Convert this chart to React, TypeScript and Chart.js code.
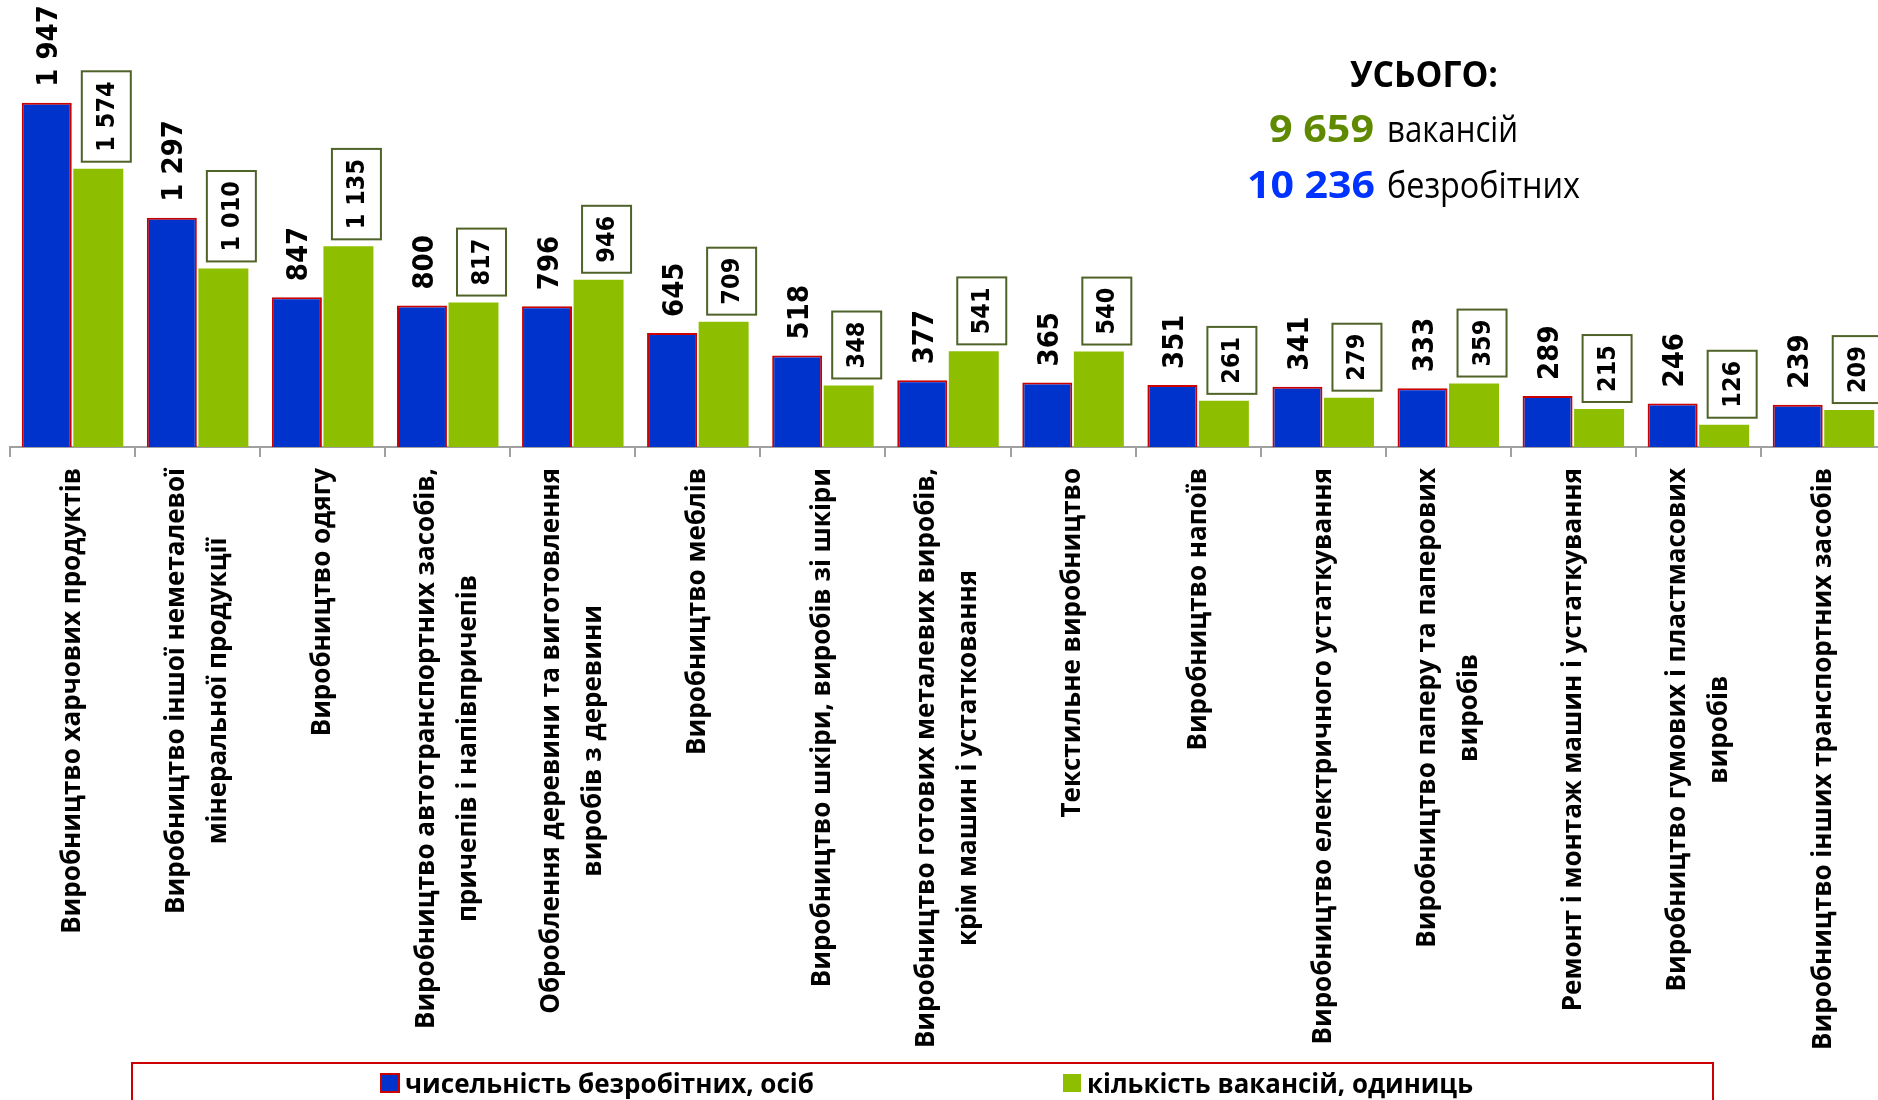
import React, { useEffect, useRef } from 'react';
import { Chart, registerables } from 'chart.js';

Chart.register(...registerables);

const categories: string[][] = [
  ['Виробництво харчових продуктів'],
  ['Виробництво іншої неметалевої', 'мінеральної продукції'],
  ['Виробництво одягу'],
  ['Виробництво автотранспортних засобів,', 'причепів і напівпричепів'],
  ['Оброблення деревини та виготовлення', 'виробів з деревини'],
  ['Виробництво меблів'],
  ['Виробництво шкіри, виробів зі шкіри'],
  ['Виробництво готових металевих виробів,', 'крім машин і устатковання'],
  ['Текстильне виробництво'],
  ['Виробництво напоїв'],
  ['Виробництво електричного устаткування'],
  ['Виробництво паперу та паперових', 'виробів'],
  ['Ремонт і монтаж машин і устаткування'],
  ['Виробництво гумових і пластмасових', 'виробів'],
  ['Виробництво інших транспортних засобів'],
];

const unemployed: number[] = [1947, 1297, 847, 800, 796, 645, 518, 377, 365, 351, 341, 333, 289, 246, 239];
const vacancies: number[] = [1574, 1010, 1135, 817, 946, 709, 348, 541, 540, 261, 279, 359, 215, 126, 209];

const seriesNames: string[] = ['чисельність безробітних, осіб', 'кількість вакансій, одиниць'];
const totalHeading = 'УСЬОГО:';
const totalVacancies = '9 659';
const totalVacanciesWord = 'вакансій';
const totalUnemployed = '10 236';
const totalUnemployedWord = 'безробітних';
const yMax = 2500;

const BLUE = '#0033CC';
const GREEN = '#8DBF00';
const RED = '#CC0000';

function fmt(n: number): string {
  return String(n).replace(/\B(?=(\d{3})+(?!\d))/g, ' ');
}

function drawFit(ctx: CanvasRenderingContext2D, text: string, x: number, y: number, w: number, align: CanvasTextAlign) {
  const m = ctx.measureText(text).width;
  const s = w / m;
  ctx.save();
  ctx.translate(x, y);
  ctx.scale(s, 1);
  ctx.textAlign = align;
  ctx.textBaseline = 'alphabetic';
  ctx.fillText(text, 0, 0);
  ctx.restore();
}

const customPlugin = {
  id: 'customDecor',
  afterDatasetsDraw(chart: any) {
    const ctx: CanvasRenderingContext2D = chart.ctx;
    const m0 = chart.getDatasetMeta(0);
    const m1 = chart.getDatasetMeta(1);
    ctx.save();
    ctx.fillStyle = '#000';
    ctx.font = 'bold 29px "DejaVu Sans Condensed", "DejaVu Sans"';
    m0.data.forEach((el: any, i: number) => {
      ctx.save();
      ctx.translate(el.x + 2, el.y - 16);
      ctx.rotate(-Math.PI / 2);
      ctx.textAlign = 'left';
      ctx.textBaseline = 'middle';
      ctx.fillText(fmt(unemployed[i]), 0, 1);
      ctx.restore();
    });
    ctx.font = 'bold 25px "DejaVu Sans Condensed", "DejaVu Sans"';
    m1.data.forEach((el: any, i: number) => {
      const txt = fmt(vacancies[i]);
      const w = ctx.measureText(txt).width;
      const len = w + 20;
      const thick = 49;
      ctx.save();
      ctx.translate(el.x + 8, el.y - 7);
      ctx.rotate(-Math.PI / 2);
      ctx.fillStyle = '#fff';
      ctx.fillRect(0, -thick / 2, len, thick);
      ctx.strokeStyle = '#4F6228';
      ctx.lineWidth = 2;
      ctx.strokeRect(0, -thick / 2, len, thick);
      ctx.fillStyle = '#000';
      ctx.textAlign = 'center';
      ctx.textBaseline = 'middle';
      ctx.fillText(txt, len / 2, 1);
      ctx.restore();
    });
    ctx.restore();
  },
  afterDraw(chart: any) {
    const ctx: CanvasRenderingContext2D = chart.ctx;
    const xs = chart.scales.x;
    const top = chart.chartArea.bottom + 21;
    ctx.save();
    ctx.fillStyle = '#000';
    ctx.font = 'bold 26px "Open Sans"';
    categories.forEach((lines, i) => {
      const cx = xs.getPixelForValue(i);
      const bw = Math.max(...lines.map((l) => ctx.measureText(l).width));
      ctx.save();
      ctx.translate(cx, top + bw / 2);
      ctx.rotate(-Math.PI / 2);
      ctx.textAlign = 'center';
      ctx.textBaseline = 'middle';
      lines.forEach((l, j) => ctx.fillText(l, 0, (j - (lines.length - 1) / 2) * 42));
      ctx.restore();
    });

    // totals annotation
    ctx.fillStyle = '#000';
    ctx.font = 'bold 36px "Open Sans"';
    drawFit(ctx, totalHeading, 1424, 87, 148, 'center');
    ctx.font = 'bold 38px "Open Sans"';
    ctx.fillStyle = '#5F8A00';
    drawFit(ctx, totalVacancies, 1374, 142, 105, 'right');
    ctx.fillStyle = '#0033FF';
    drawFit(ctx, totalUnemployed, 1375, 198, 128, 'right');
    ctx.fillStyle = '#000';
    ctx.font = '36px "Open Sans"';
    drawFit(ctx, totalVacanciesWord, 1387, 142, 131, 'left');
    drawFit(ctx, totalUnemployedWord, 1387, 198, 193, 'left');

    // legend
    ctx.strokeStyle = RED;
    ctx.lineWidth = 2;
    ctx.strokeRect(132, 1063, 1713 - 132, 80);
    ctx.fillStyle = BLUE;
    ctx.fillRect(381, 1074, 18, 18);
    ctx.strokeStyle = RED;
    ctx.lineWidth = 2;
    ctx.strokeRect(381, 1074, 18, 18);
    ctx.fillStyle = GREEN;
    ctx.fillRect(1063, 1074, 18, 18);
    ctx.fillStyle = '#000';
    ctx.font = 'bold 27px "Open Sans"';
    drawFit(ctx, seriesNames[0], 405, 1093, 409, 'left');
    drawFit(ctx, seriesNames[1], 1087, 1093, 386, 'left');
    ctx.restore();
  },
};

export default function App() {
  const ref = useRef<HTMLCanvasElement | null>(null);
  useEffect(() => {
    if (!ref.current) return;
    const chart = new Chart(ref.current, {
      type: 'bar',
      data: {
        labels: categories.map((c) => c.join(' ')),
        datasets: [
          {
            label: seriesNames[0],
            data: unemployed,
            backgroundColor: BLUE,
            borderColor: RED,
            borderWidth: 2,
            barPercentage: 0.97,
            categoryPercentage: 0.824,
          },
          {
            label: seriesNames[1],
            data: vacancies,
            backgroundColor: GREEN,
            borderWidth: 0,
            barPercentage: 0.97,
            categoryPercentage: 0.824,
          },
        ],
      },
      options: {
        responsive: false,
        animation: false,
        layout: { padding: { left: 10, right: 4, top: 5, bottom: 0 } },
        plugins: {
          legend: { display: false },
          tooltip: { enabled: false },
          title: { display: false },
        },
        scales: {
          x: {
            afterFit: (scale: any) => {
              scale.height = 1100 - 447;
            },
            ticks: { display: false },
            grid: {
              display: true,
              offset: true,
              drawOnChartArea: false,
              drawTicks: true,
              tickLength: 10,
              color: '#A0A0A0',
              lineWidth: 2,
            },
            border: { display: true, color: '#A0A0A0', width: 2 },
          },
          y: {
            display: false,
            min: 0,
            max: yMax,
          },
        },
      },
      plugins: [customPlugin],
    });
    return () => chart.destroy();
  }, []);
  return (
    <div style={{ position: 'absolute', left: 0, top: 0, width: 1878, height: 1100, overflow: 'hidden', background: '#fff' }}>
      <canvas ref={ref} width={1890} height={1100} style={{ width: 1890, height: 1100, display: 'block' }} />
    </div>
  );
}
